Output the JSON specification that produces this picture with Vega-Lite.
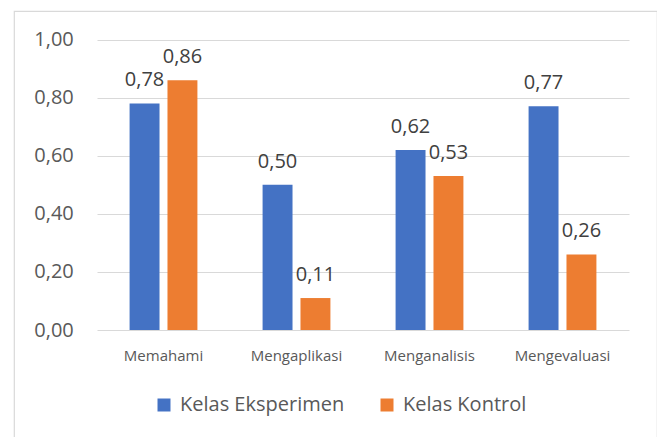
{
  "$schema": "https://vega.github.io/schema/vega-lite/v6.json",
  "width": 643,
  "height": 440,
  "autosize": {"type": "none"},
  "padding": {"left": 14, "top": 11, "right": 0, "bottom": 0},
  "background": "white",
  "config": {
    "locale": {"number": {"decimal": ",", "thousands": ".", "grouping": [3], "currency": ["", ""]}},
    "view": {"stroke": "#d9d9d9", "strokeWidth": 1.2},
    "font": "Open Sans"
  },
  "data": {
    "values": [
      {"aspek": "Memahami", "kelas": "Kelas Eksperimen", "nilai": 0.78},
      {"aspek": "Memahami", "kelas": "Kelas Kontrol", "nilai": 0.86},
      {"aspek": "Mengaplikasi", "kelas": "Kelas Eksperimen", "nilai": 0.50},
      {"aspek": "Mengaplikasi", "kelas": "Kelas Kontrol", "nilai": 0.11},
      {"aspek": "Menganalisis", "kelas": "Kelas Eksperimen", "nilai": 0.62},
      {"aspek": "Menganalisis", "kelas": "Kelas Kontrol", "nilai": 0.53},
      {"aspek": "Mengevaluasi", "kelas": "Kelas Eksperimen", "nilai": 0.77},
      {"aspek": "Mengevaluasi", "kelas": "Kelas Kontrol", "nilai": 0.26}
    ]
  },
  "encoding": {
    "x": {
      "field": "aspek",
      "type": "nominal",
      "sort": ["Memahami", "Mengaplikasi", "Menganalisis", "Mengevaluasi"],
      "scale": {"range": [83, 615], "paddingInner": 0.49, "paddingOuter": 0.245},
      "axis": {
        "orient": "bottom",
        "offset": -121,
        "ticks": false,
        "tickSize": 0,
        "domain": false,
        "grid": false,
        "labelPadding": 18,
        "labelFontSize": 15,
        "labelColor": "#595959",
        "labelAngle": 0,
        "title": null
      }
    },
    "xOffset": {
      "field": "kelas",
      "type": "nominal",
      "sort": ["Kelas Eksperimen", "Kelas Kontrol"],
      "scale": {"paddingInner": 0.21, "paddingOuter": 0}
    },
    "y": {
      "field": "nilai",
      "type": "quantitative",
      "scale": {"domain": [0, 1], "range": [319, 28.5], "nice": false, "zero": true},
      "axis": {
        "values": [0, 0.2, 0.4, 0.6, 0.8, 1],
        "format": ".2f",
        "offset": -59.3,
        "ticks": false,
        "tickSize": 0,
        "domain": false,
        "labelPadding": 0,
        "labelFontSize": 20,
        "labelColor": "#595959",
        "grid": true,
        "gridColor": "#d9d9d9",
        "gridWidth": 1.2,
        "title": null
      }
    }
  },
  "layer": [
    {
      "mark": {"type": "bar"},
      "encoding": {
        "color": {
          "field": "kelas",
          "type": "nominal",
          "scale": {"domain": ["Kelas Eksperimen", "Kelas Kontrol"], "range": ["#4472C4", "#ED7D31"]},
          "legend": {
            "orient": "none",
            "direction": "horizontal",
            "legendX": 140,
            "legendY": 384,
            "title": null,
            "symbolType": "square",
            "symbolSize": 169,
            "symbolStrokeWidth": 0,
            "labelFontSize": 20,
            "labelColor": "#595959",
            "labelOffset": 6,
            "labelLimit": 0,
            "columnPadding": 32,
            "padding": 0
          }
        }
      }
    },
    {
      "mark": {"type": "text", "baseline": "alphabetic", "dy": -17, "fontSize": 20, "color": "#404040"},
      "encoding": {
        "text": {"field": "nilai", "type": "quantitative", "format": ".2f"}
      }
    }
  ]
}
